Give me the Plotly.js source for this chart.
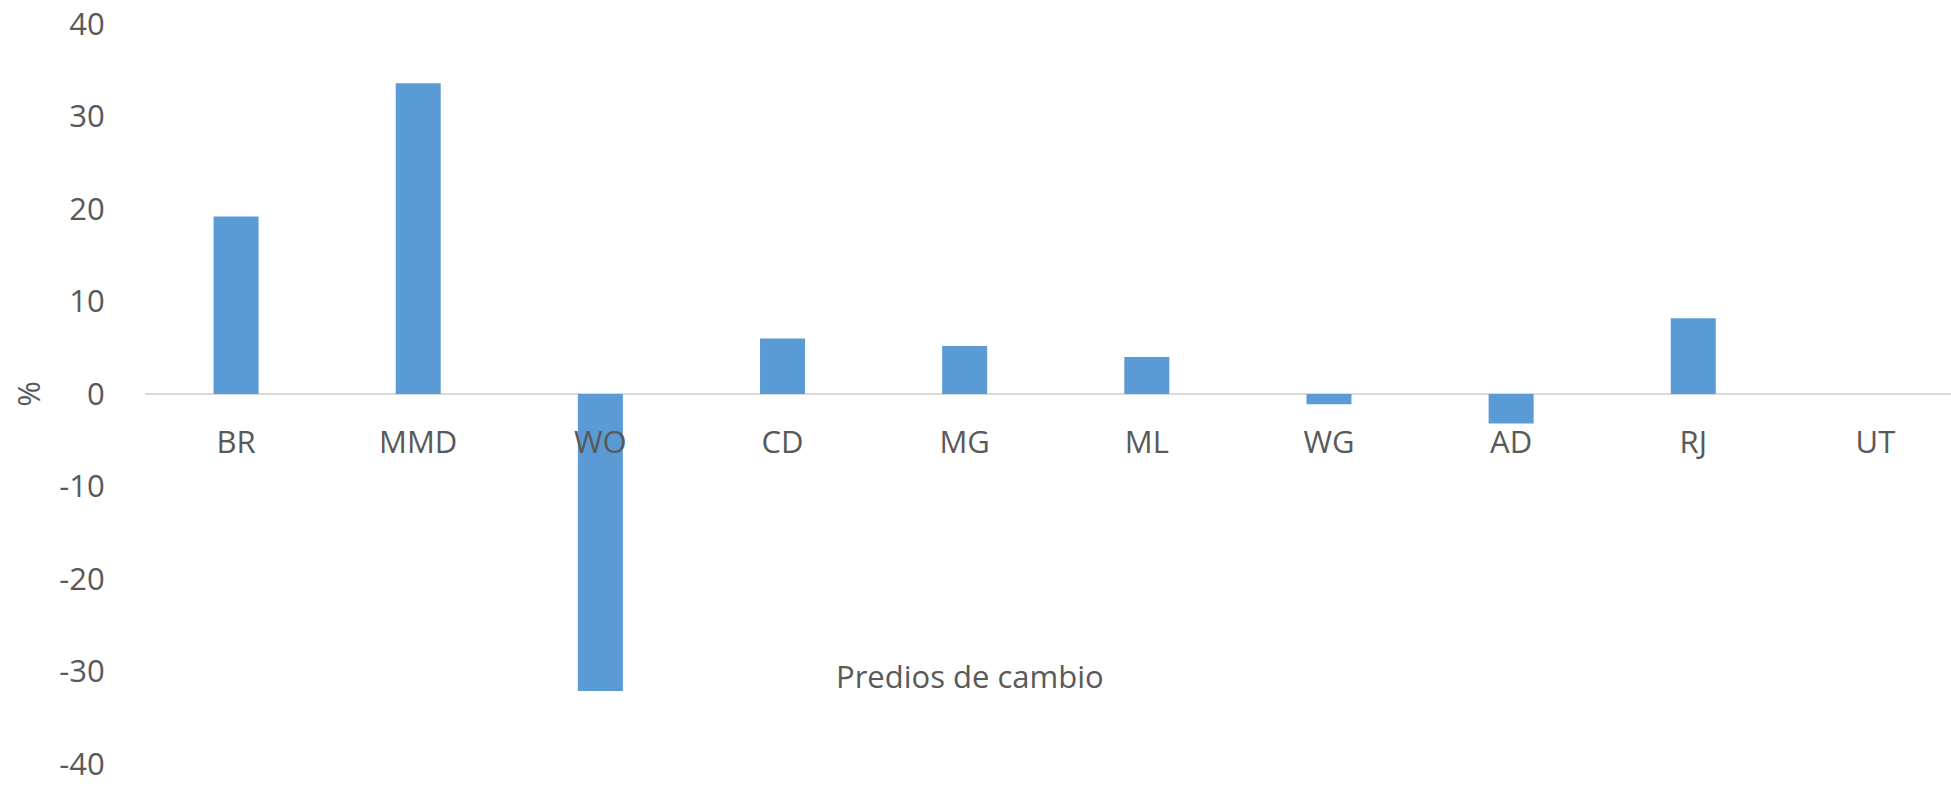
<!DOCTYPE html>
<html>
<head>
<meta charset="utf-8">
<script src="https://cdn.plot.ly/plotly-3.0.1.min.js"></script>
<style>html,body{margin:0;padding:0;background:#fff;}#chart{width:1951px;height:789px;}</style>
</head>
<body>
<div id="chart"></div>
<script>
const categories = ['BR', 'MMD', 'WO', 'CD', 'MG', 'ML', 'WG', 'AD', 'RJ', 'UT'];
const values = [19.2, 33.6, -32.1, 6.0, 5.2, 4.0, -1.1, -3.2, 8.2, 0];
const yTickVals = [-40, -30, -20, -10, 0, 10, 20, 30, 40];
const yTickText = ['-40', '-30', '-20', '-10', '0', '10', '20', '30', '40'];
const yTitle = '%';
const xTitle = 'Predios de cambio';

const textColor = '#595959';
const fontFamily = '"Open Sans", "Noto Sans", sans-serif';
const fontSize = 31;

const trace = {
  type: 'bar',
  x: categories,
  y: values,
  marker: {color: '#5B9BD5', line: {width: 0}},
  hoverinfo: 'skip'
};

const layout = {
  width: 1951,
  height: 789,
  margin: {l: 145, r: 0, t: 24, b: 25, pad: 0},
  paper_bgcolor: '#ffffff',
  plot_bgcolor: '#ffffff',
  showlegend: false,
  bargap: 0.753,
  font: {family: fontFamily, size: fontSize, color: textColor},
  xaxis: {
    type: 'category',
    range: [-0.5, 9.415],
    anchor: 'free',
    position: 0.5,
    showline: false,
    showgrid: false,
    zeroline: false,
    ticks: 'outside',
    ticklen: 21,
    tickcolor: 'rgba(0,0,0,0)',
    tickfont: {family: fontFamily, size: fontSize, color: textColor},
    automargin: false,
    fixedrange: true
  },
  yaxis: {
    range: [-40, 40],
    tickvals: yTickVals,
    ticktext: yTickText,
    showgrid: false,
    showline: false,
    zeroline: true,
    zerolinecolor: '#D9D9D9',
    zerolinewidth: 1.5,
    ticks: 'outside',
    ticklen: 33,
    tickcolor: 'rgba(0,0,0,0)',
    ticklabeloverflow: 'allow',
    tickfont: {family: fontFamily, size: fontSize, color: textColor},
    title: {text: yTitle, font: {family: fontFamily, size: fontSize, color: textColor}, standoff: 9},
    automargin: false,
    fixedrange: true
  },
  annotations: [{
    text: xTitle,
    xref: 'paper',
    yref: 'y',
    x: 0.4568,
    y: -30.5,
    xanchor: 'center',
    yanchor: 'middle',
    showarrow: false,
    font: {family: fontFamily, size: fontSize, color: textColor}
  }]
};

Plotly.newPlot('chart', [trace], layout, {staticPlot: true, displayModeBar: false});
</script>
</body>
</html>
